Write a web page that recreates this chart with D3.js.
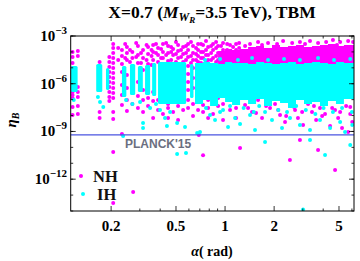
<!DOCTYPE html>
<html>
<head>
<meta charset="utf-8">
<script src="https://d3js.org/d3.v7.min.js"></script>
<style>
  body { margin: 0; background: #fff; }
  svg { display: block; }
</style>
</head>
<body>
<div id="chart"></div>
<script>
// ---- data: [alpha (rad), log10(eta_B)] ----
var nhPoints = [
  [0.116,-4.01],[0.116,-4.32],[0.116,-4.70],[0.116,-5.01],[0.116,-5.33],[0.116,-5.64],[0.116,-5.95],[0.116,-6.27],[0.116,-6.52],[0.116,-6.71],[0.116,-6.90],[0.116,-7.46],[0.116,-7.97],
  [0.125,-3.94],[0.125,-4.26],[0.125,-6.21],[0.125,-6.52],[0.125,-6.83],[0.125,-7.40],[0.125,-7.90],
  [0.170,-4.63],[0.170,-4.89],[0.170,-5.14],[0.170,-5.39],[0.170,-5.64],[0.170,-5.89],[0.170,-6.14],[0.170,-6.39],[0.170,-7.78],[0.170,-8.15],
  [0.195,-4.32],[0.195,-4.63],[0.195,-4.95],[0.195,-5.26],[0.195,-5.58],[0.195,-5.89],[0.195,-6.21],[0.195,-6.52],[0.195,-6.83],[0.195,-7.09],
  [0.206,-3.50],[0.206,-3.75],[0.206,-4.07],[0.206,-4.38],[0.206,-4.70],[0.206,-5.01],[0.206,-5.33],[0.206,-5.64],[0.206,-5.95],[0.206,-6.27],[0.206,-6.58],[0.206,-6.90],[0.206,-7.78],[0.206,-8.22],[0.206,-10.29],[0.206,-13.50],
  [0.221,-3.75],[0.221,-4.51],
  [0.233,-3.88],[0.233,-4.26],[0.233,-4.76],[0.233,-5.26],[0.233,-6.08],[0.233,-6.71],[0.233,-7.34],[0.233,-9.16],
  [0.244,-3.50],[0.244,-4.38],
  [0.250,-3.69],[0.250,-4.07],[0.250,-4.51],[0.250,-5.45],[0.250,-6.27],[0.250,-7.02],[0.250,-7.71],
  [0.261,-3.88],[0.261,-4.63],
  [0.270,-4.01],[0.270,-4.38],[0.270,-5.01],[0.270,-5.77],[0.270,-6.52],[0.270,-7.27],[0.273,-12.81],
  [0.285,-3.44],[0.285,-4.32],
  [0.292,-3.63],[0.292,-4.19],[0.292,-4.70],[0.292,-5.89],[0.292,-6.77],[0.292,-7.53],
  [0.305,-4.07],[0.305,-4.70],
  [0.314,-3.88],[0.314,-4.38],[0.314,-5.14],[0.314,-6.39],[0.314,-7.02],[0.314,-7.78],
  [0.330,-3.57],[0.330,-4.51],
  [0.337,-3.69],[0.337,-4.13],[0.337,-4.76],[0.337,-6.14],[0.337,-6.90],[0.337,-7.40],
  [0.354,-3.88],[0.354,-4.26],[0.354,-4.82],
  [0.362,-3.57],[0.362,-4.01],[0.362,-4.51],[0.362,-6.52],[0.362,-7.09],[0.362,-8.15],
  [0.377,-3.50],[0.377,-4.07],
  [0.388,-3.75],[0.388,-4.19],[0.388,-4.63],[0.388,-7.02],[0.388,-7.65],
  [0.405,-3.82],[0.405,-4.38],[0.405,-4.76],
  [0.416,-3.50],[0.416,-4.01],[0.416,-4.38],[0.416,-7.15],[0.416,-7.90],
  [0.435,-3.44],[0.435,-4.19],
  [0.447,-3.63],[0.447,-4.07],[0.447,-4.57],[0.447,-7.27],[0.447,-7.53],[0.447,-8.15],
  [0.467,-3.69],[0.467,-4.01],[0.467,-4.51],
  [0.480,-3.82],[0.480,-4.19],[0.480,-7.02],[0.480,-7.78],
  [0.500,-3.38],[0.500,-4.13],[0.500,-4.63],
  [0.515,-3.57],[0.515,-3.94],[0.515,-4.38],[0.515,-6.90],[0.515,-7.40],[0.515,-8.28],
  [0.537,-3.88],[0.537,-4.32],
  [0.553,-3.69],[0.553,-4.13],[0.553,-4.63],[0.553,-6.77],[0.553,-7.65],
  [0.576,-3.63],[0.576,-4.07],[0.576,-4.51],
  [0.593,-3.50],[0.593,-3.88],[0.593,-4.32],[0.593,-4.89],[0.593,-5.39],[0.593,-5.89],[0.593,-6.39],[0.593,-7.02],[0.593,-7.53],
  [0.618,-3.38],[0.618,-4.26],[0.618,-4.70],
  [0.636,-3.63],[0.636,-4.07],[0.636,-4.51],[0.636,-5.01],[0.636,-5.64],[0.636,-6.27],[0.636,-7.27],[0.636,-8.03],
  [0.664,-3.75],[0.664,-4.13],[0.664,-4.51],
  [0.683,-3.50],[0.683,-3.88],[0.683,-4.26],[0.683,-4.63],[0.683,-7.02],[0.683,-7.65],[0.690,-9.22],
  [0.712,-3.50],[0.712,-4.01],[0.712,-4.38],[0.712,-4.70],
  [0.733,-3.57],[0.733,-4.01],[0.733,-4.38],[0.733,-7.34],[0.733,-7.78],[0.733,-10.50],
  [0.764,-3.31],[0.764,-3.88],[0.764,-4.19],[0.764,-4.63],
  [0.787,-3.69],[0.787,-4.19],[0.787,-4.51],[0.787,-7.02],[0.787,-7.53],[0.787,-8.15],
  [0.821,-3.63],[0.821,-4.07],[0.821,-4.51],
  [0.844,-3.50],[0.844,-3.88],[0.844,-4.38],[0.844,-7.15],[0.844,-7.90],
  [0.881,-3.38],[0.881,-3.75],[0.881,-4.26],[0.881,-4.63],
  [0.906,-3.63],[0.906,-4.07],[0.906,-4.51],[0.906,-6.90],[0.906,-7.40],
  [0.945,-3.63],[0.945,-4.07],[0.945,-4.45],
  [0.972,-3.44],[0.972,-3.88],[0.972,-4.32],[0.972,-7.27],[0.972,-8.28],
  [1.03,-3.50],[1.03,-3.88],[1.03,-4.26],[1.03,-4.57],
  [1.073,-3.57],[1.073,-4.01],[1.073,-7.02],[1.073,-7.65],
  [1.12,-3.69],[1.12,-4.13],[1.12,-4.51],
  [1.168,-3.50],[1.168,-3.88],[1.168,-7.53],[1.168,-8.15],
  [1.22,-3.44],[1.22,-3.75],
  [1.327,-3.63],[1.423,-3.50],[1.594,-3.38],[1.686,-3.57],[1.835,-3.44],[2.085,-3.50],[2.27,-3.31],
  [2.58,-3.44],[2.88,-3.38],[3.095,-3.50],[3.32,-3.31],[3.72,-3.44],[4.17,-3.38],[4.59,-3.25],
  [4.86,-3.57],[5.08,-3.38],[5.69,-3.31],[6.10,-3.38],
  [1.327,-7.34],[1.464,-7.78],[1.594,-7.02],[1.686,-8.15],[1.888,-7.53],[2.026,-7.27],[2.174,-7.97],
  [2.333,-8.41],[2.504,-7.40],[2.687,-7.65],[2.80,-8.15],[3.01,-8.59],[3.23,-7.27],[3.415,-7.78],
  [3.62,-8.28],[3.823,-7.53],[4.105,-7.90],[4.41,-8.66],[4.728,-7.65],[4.94,-8.15],[5.22,-8.78],
  [5.53,-7.40],[5.86,-7.90],[6.03,-8.41],[5.69,-9.03],
  [1.384,-7.53],[1.549,-7.84],[1.785,-7.40],[2.12,-7.65],[2.37,-8.03],[2.65,-7.46],[2.97,-7.78],
  [3.51,-7.40],[3.94,-8.03],[4.54,-7.53],[5.08,-7.78],[5.86,-7.46],
  [1.236,-10.04],[2.50,-10.79],[3.72,-10.17],[4.73,-11.42],[2.88,-9.54]
];

var ihPoints = [
  [0.118,-7.02],[0.166,-6.83],[0.171,-7.15],[0.179,-7.46],[0.247,-7.02],[0.270,-7.27],[0.301,-7.15],
  [0.347,-7.53],[0.377,-7.27],[0.399,-7.65],[0.428,-8.15],[0.460,-7.78],[0.314,-8.47],[0.314,-8.78],
  [0.440,-8.66],[0.508,-8.47],[0.568,-8.72],[0.674,-9.10],[0.702,-9.03],[0.237,-9.29],[0.508,-10.42],
  [0.576,-10.35],[0.809,-7.97],[0.868,-8.28],[0.932,-7.78],[1.043,-8.72],[1.152,-8.15],[1.236,-8.53],
  [1.423,-7.97],[1.527,-8.91],[1.759,-7.78],[1.941,-8.28],[2.236,-8.78],[2.504,-8.15],[2.88,-8.59],
  [3.32,-8.91],[3.823,-8.28],[4.41,-8.78],[5.08,-8.41],[5.445,-9.03],[6.03,-8.59],[3.01,-13.9],
  [1.759,-9.66],[3.32,-9.54],[5.86,-9.85],[4.105,-10.48],
  [0.754,-4.51],[0.932,-4.45],[1.20,-4.51],[1.464,-4.38],[1.835,-4.51],[2.30,-4.45],[2.88,-4.51],
  [3.72,-4.38],[4.66,-4.51],[5.86,-4.45],
  [0.764,-7.53],[0.844,-7.27],[0.972,-7.65],[1.073,-7.40],[1.30,-7.53],[1.50,-7.78],[1.62,-7.40],
  [1.86,-7.27],[2.12,-7.65],[2.40,-7.78],[2.73,-7.40],[3.13,-7.65],[3.58,-7.90],[4.02,-7.53],
  [4.59,-7.78],[5.22,-7.53],[6.0,-7.78]
];

// saturated regions where the dots merge into solid colour
var ihStripFrom = [0.1134, 0.162, 0.186, 0.233, 0.261, 0.292, 0.323, 0.357, 0.388, 0.61];
var ihStripTo   = [0.1246, 0.1765, 0.195, 0.248, 0.281, 0.313, 0.347, 0.378, 0.577, 0.64];
var ihStripTop  = [-4.89, -4.76, -5.01, -4.89, -4.76, -4.89, -4.82, -4.70, -4.63, -4.76];
var ihStripBot  = [-6.52, -6.52, -6.39, -6.83, -6.71, -6.52, -6.71, -6.77, -7.27, -6.90];

var ihBandAlpha = [0.654,0.733,0.809,0.906,1.0,1.104,1.236,1.384,1.549,1.734,1.941,2.174,2.434,2.725,3.05,3.415,3.823,4.28,4.79,5.36,6.18];
var ihBandTop   = [-4.70,-4.63,-4.70,-4.76,-4.63,-4.70,-4.70,-4.76,-4.63,-4.70,-4.76,-4.70,-4.63,-4.76,-4.70,-4.63,-4.70,-4.76,-4.63,-4.70,-4.70];
var ihBandBot   = [-7.27,-7.02,-7.40,-6.90,-7.15,-7.34,-7.02,-7.27,-6.96,-7.40,-7.09,-7.21,-7.53,-7.02,-7.27,-7.15,-7.40,-7.09,-7.27,-6.96,-7.21];

var nhBandAlpha = [0.906,1.0,1.104,1.236,1.384,1.549,1.734,1.941,2.174,2.434,2.725,3.05,3.415,3.823,4.28,4.79,5.36,6.18];
var nhBandTop   = [-3.94,-3.82,-3.88,-3.82,-3.69,-3.63,-3.75,-3.57,-3.69,-3.63,-3.57,-3.69,-3.63,-3.57,-3.50,-3.63,-3.57,-3.50];
var nhBandBot   = -5.5;

var planck = 6.1e-10;
var xMajor = [0.2, 0.5, 1, 2, 5];
var xMinor = [0.3, 0.4, 0.6, 0.7, 0.8, 0.9, 3, 4, 6];
var yMajorExp = [-3, -6, -9, -12];
var yMinorExp = [-3, -4, -5, -6, -7, -8, -9, -10, -11, -12, -13, -14];

var magenta = "#ff00ff", cyan = "#00ffff";

var svg = d3.select("#chart").append("svg")
  .attr("width", 360).attr("height", 261);

var x = d3.scaleLog().domain([0.113, 6.18]).range([70.7, 354]);
var y = d3.scaleLog().domain([1e-14, 1e-3]).range([211, 36]);

svg.append("clipPath").attr("id", "clip")
  .append("rect").attr("x", 70.7).attr("y", 36).attr("width", 283.3).attr("height", 175);

var plot = svg.append("g").attr("clip-path", "url(#clip)");

// NH dense band
var nhArea = d3.area()
  .x(function(d, i) { return x(nhBandAlpha[i]); })
  .y0(y(Math.pow(10, nhBandBot)))
  .y1(function(d) { return y(Math.pow(10, d)); })
  .curve(d3.curveStepAfter);
plot.append("path").datum(nhBandTop).attr("d", nhArea).attr("fill", magenta);

// NH dots
plot.append("g").selectAll("circle")
  .data(nhPoints).enter().append("circle")
    .attr("cx", d => x(d[0]))
    .attr("cy", d => y(Math.pow(10, d[1])))
    .attr("r", 2)
    .style("fill", magenta);

// IH strips and band
plot.append("g").selectAll("rect")
  .data(ihStripFrom).enter().append("rect")
    .attr("x", (d, i) => x(d))
    .attr("width", (d, i) => x(ihStripTo[i]) - x(d))
    .attr("y", (d, i) => y(Math.pow(10, ihStripTop[i])))
    .attr("height", (d, i) => y(Math.pow(10, ihStripBot[i])) - y(Math.pow(10, ihStripTop[i])))
    .attr("rx", 1.5)
    .style("fill", cyan);

var ihArea = d3.area()
  .x(function(d, i) { return x(ihBandAlpha[i]); })
  .y0(function(d, i) { return y(Math.pow(10, ihBandBot[i])); })
  .y1(function(d) { return y(Math.pow(10, d)); })
  .curve(d3.curveStepAfter);
plot.append("path").datum(ihBandTop).attr("d", ihArea).attr("fill", cyan);

// IH dots
plot.append("g").selectAll("circle")
  .data(ihPoints).enter().append("circle")
    .attr("cx", d => x(d[0]))
    .attr("cy", d => y(Math.pow(10, d[1])))
    .attr("r", 2)
    .style("fill", cyan);

// Planck line
svg.append("line")
  .attr("x1", 70.7).attr("x2", 354)
  .attr("y1", y(planck)).attr("y2", y(planck))
  .attr("stroke", "#4a55e0").attr("stroke-width", 1.3);
svg.append("text")
  .attr("x", 125).attr("y", y(planck) + 13)
  .style("font-family", "Liberation Sans, Arial, sans-serif")
  .style("font-weight", "bold").style("font-size", "12px")
  .attr("fill", "#6b6f80")
  .text("PLANCK'15");

// frame
svg.append("rect")
  .attr("x", 70.7).attr("y", 36).attr("width", 283.3).attr("height", 175)
  .attr("fill", "none").attr("stroke", "#000").attr("stroke-width", 1);

// ticks (inward, all four sides)
var ticks = svg.append("g").attr("stroke", "#000").attr("stroke-width", 0.8);
function xTicks(vals, len) {
  vals.forEach(function(v) {
    ticks.append("line").attr("x1", x(v)).attr("x2", x(v)).attr("y1", 211).attr("y2", 211 - len);
    ticks.append("line").attr("x1", x(v)).attr("x2", x(v)).attr("y1", 36).attr("y2", 36 + len);
  });
}
function yTicks(exps, len) {
  exps.forEach(function(e) {
    var yy = y(Math.pow(10, e));
    ticks.append("line").attr("x1", 70.7).attr("x2", 70.7 + len).attr("y1", yy).attr("y2", yy);
    ticks.append("line").attr("x1", 354).attr("x2", 354 - len).attr("y1", yy).attr("y2", yy);
  });
}
xTicks(xMajor, 5); xTicks(xMinor, 2.5);
yTicks(yMinorExp, 2.5); yTicks(yMajorExp, 5);

var serif = "Liberation Serif, Times New Roman, serif";

// x tick labels
svg.append("g").selectAll("text")
  .data(xMajor).enter().append("text")
    .attr("x", d => x(d)).attr("y", 231)
    .attr("text-anchor", "middle")
    .style("font-family", serif).style("font-weight", "bold").style("font-size", "15px")
    .text(d => d);

// y tick labels
var yl = svg.append("g").selectAll("text")
  .data(yMajorExp).enter().append("text")
    .attr("x", 67).attr("y", d => y(Math.pow(10, d)) + 5)
    .attr("text-anchor", "end")
    .style("font-family", serif).style("font-weight", "bold").style("font-size", "15px");
yl.append("tspan").text("10");
yl.append("tspan").attr("dy", -7).style("font-size", "11px").text(d => "\u2212" + (-d));

// title
var title = svg.append("text")
  .attr("x", 212).attr("y", 18).attr("text-anchor", "middle")
  .style("font-family", serif).style("font-weight", "bold").style("font-size", "17.5px");
title.append("tspan").text("X=0.7 (");
title.append("tspan").style("font-style", "italic").text("M");
title.append("tspan").attr("dy", 3).style("font-style", "italic").style("font-size", "12px").text("W");
title.append("tspan").attr("dy", 2).style("font-style", "italic").style("font-size", "9px").text("R");
title.append("tspan").attr("dy", -5).text("=3.5 TeV), TBM");

// axis labels
var xl = svg.append("text")
  .attr("x", 212).attr("y", 256).attr("text-anchor", "middle")
  .style("font-family", serif).style("font-weight", "bold").style("font-size", "14px");
xl.append("tspan").style("font-style", "italic").text("\u03b1");
xl.append("tspan").text("( rad)");

var ylab = svg.append("text")
  .attr("transform", "translate(16,120) rotate(-90)").attr("text-anchor", "middle")
  .style("font-family", serif).style("font-weight", "bold").style("font-size", "15px");
ylab.append("tspan").style("font-style", "italic").text("\u03b7");
ylab.append("tspan").attr("dy", 3).style("font-style", "italic").style("font-size", "10px").text("B");

// legend
var legend = [["NH", magenta, 81, 176, 182], ["IH", cyan, 83, 194, 200]];
legend.forEach(function(l) {
  svg.append("circle").attr("cx", l[2]).attr("cy", l[3]).attr("r", 2).style("fill", l[1]);
  svg.append("text").attr("x", l[2] + (l[0] === "NH" ? 12 : 14)).attr("y", l[4])
    .style("font-family", serif).style("font-weight", "bold").style("font-size", "16.5px")
    .attr("fill", "#111")
    .text(l[0]);
});
</script>
</body>
</html>
